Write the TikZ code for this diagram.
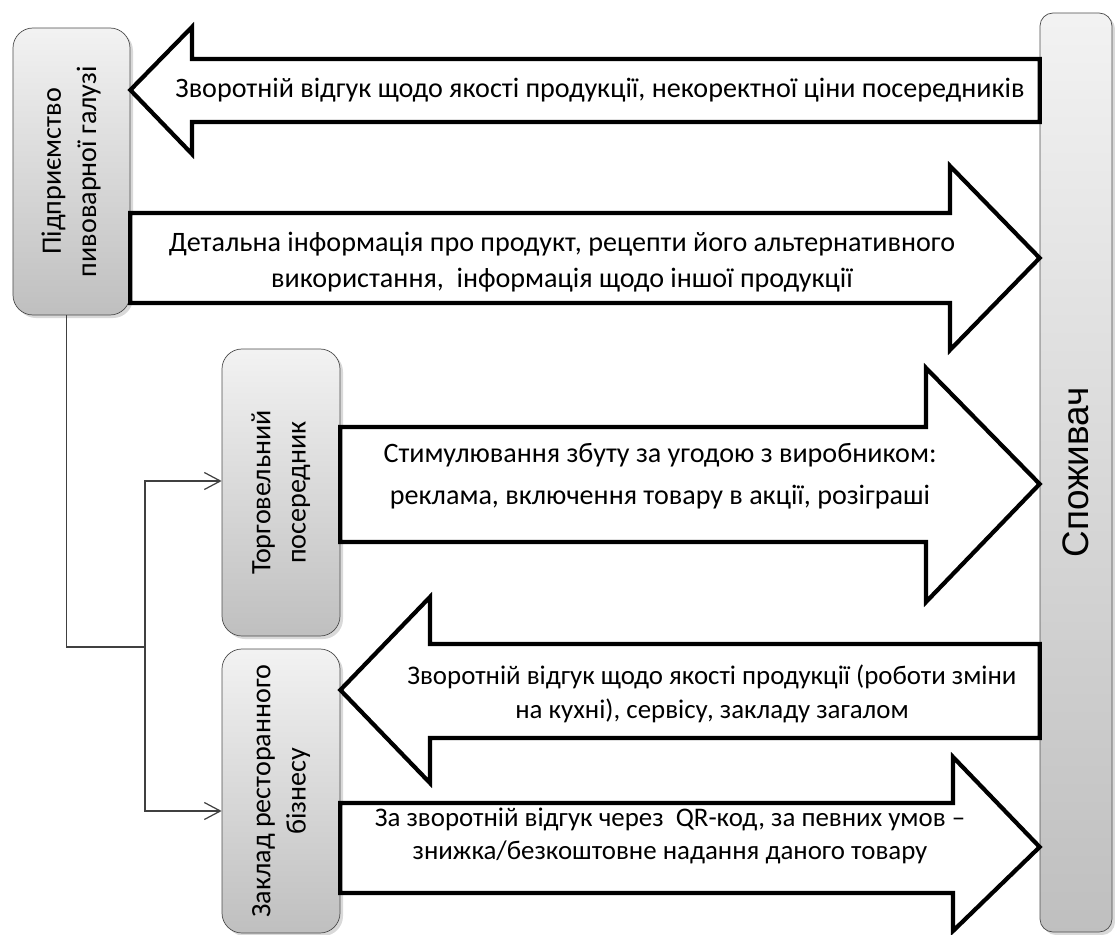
\documentclass[tikz,border=0pt]{standalone}
\usepackage{fontspec}
\setmainfont{Carlito}
\newfontfamily\narrowfont{Liberation Sans}
\usetikzlibrary{arrows.meta, shadows}

\tikzset{
  unit/.style={rounded corners=4mm, draw=black!70, thin, top color=gray!10, bottom color=gray!50,
    drop shadow={shadow xshift=0.6mm, shadow yshift=-0.6mm, opacity=0.3},
    inner sep=0pt, font=\fontsize{16}{20}\selectfont},
  block/.style={draw=black, line width=2.4pt, fill=white, line join=miter},
  msg/.style={align=center, font=\fontsize{16}{20.5}\selectfont},
  link/.style={draw=black!75, line width=0.7pt},
  feed/.style={-{Straight Barb[length=3.2mm, width=3.4mm]}}
}

\begin{document}
\begin{tikzpicture}[x=0.2mm, y=-0.2mm]
	\useasboundingbox (0,0) rectangle (1115,935);

	% participants
	\node[unit, minimum width=23.4mm, minimum height=57.4mm] (firm) at (71.5,171.5) {\rotatebox{90}{\begin{tabular}{c}Підприємство\\пивоварної галузі\end{tabular}}};
	\node[unit, minimum width=23.6mm, minimum height=57.4mm] (trade) at (281,492.5) {\rotatebox{90}{\begin{tabular}{c}Торговельний\\посередник\end{tabular}}};
	\node[unit, minimum width=23.6mm, minimum height=56.8mm] (resto) at (281,791) {\rotatebox{90}{\begin{tabular}{c}Заклад ресторанного\\бізнесу\end{tabular}}};
	\node[unit, rounded corners=2.6mm, minimum width=14.4mm, minimum height=183.8mm] (consumer) at (1076,472.5) {\rotatebox{90}{\narrowfont\fontsize{21}{24}\selectfont Споживач}};

	% links from the firm
	\coordinate (fork) at (145,647);
	\draw[link] ([xshift=-1mm]firm.south) |- (fork);
	\draw[link, feed] (fork) |- (trade.west |- 0,481);
	\draw[link, feed] (fork) |- (resto.west |- 0,811);

	% block arrows
	\draw[block] (firm.east |- 0,90) -- (192,27) -- (192,59) -- (consumer.west |- 0,59) -- (consumer.west |- 0,122) -- (192,122) -- (192,154) -- cycle;
	\node[msg] (fbfirm) at (600,90) {Зворотній відгук щодо якості продукції, некоректної ціни посередників};

	\draw[block] (firm.east |- 0,213) -- (950,213) -- (950,166) -- (consumer.west |- 0,258) -- (950,350) -- (950,303) -- (firm.east |- 0,303) -- cycle;
	\node[msg] (info) at (562,262) {Детальна інформація про продукт, рецепти його альтернативного\\використання, \ інформація щодо іншої продукції};

	\draw[block] (trade.east |- 0,427) -- (926,427) -- (926,368) -- (consumer.west |- 0,484) -- (926,602) -- (926,542) -- (trade.east |- 0,542) -- cycle;
	\node[msg, font=\fontsize{16}{24}\selectfont] (promo) at (660,476) {Стимулювання збуту за угодою з виробником:\\реклама, включення товару в акції, розіграші};

	\draw[block] (resto.east |- 0,690) -- (430,597) -- (430,644) -- (consumer.west |- 0,644) -- (consumer.west |- 0,738) -- (430,738) -- (430,783) -- cycle;
	\node[msg, font=\fontsize{15.3}{19}\selectfont] (fbresto) at (712,694) {Зворотній відгук щодо якості продукції (роботи зміни\\на кухні), сервісу, закладу загалом};

	\draw[block] (resto.east |- 0,803) -- (953,803) -- (953,757) -- (consumer.west |- 0,847) -- (953,931) -- (953,893) -- (resto.east |- 0,893) -- cycle;
	\node[msg, font=\fontsize{15.3}{19}\selectfont] (qr) at (670,836) {За зворотній відгук через \ QR-код, за певних умов –\\знижка/безкоштовне надання даного товару};
\end{tikzpicture}
\end{document}
